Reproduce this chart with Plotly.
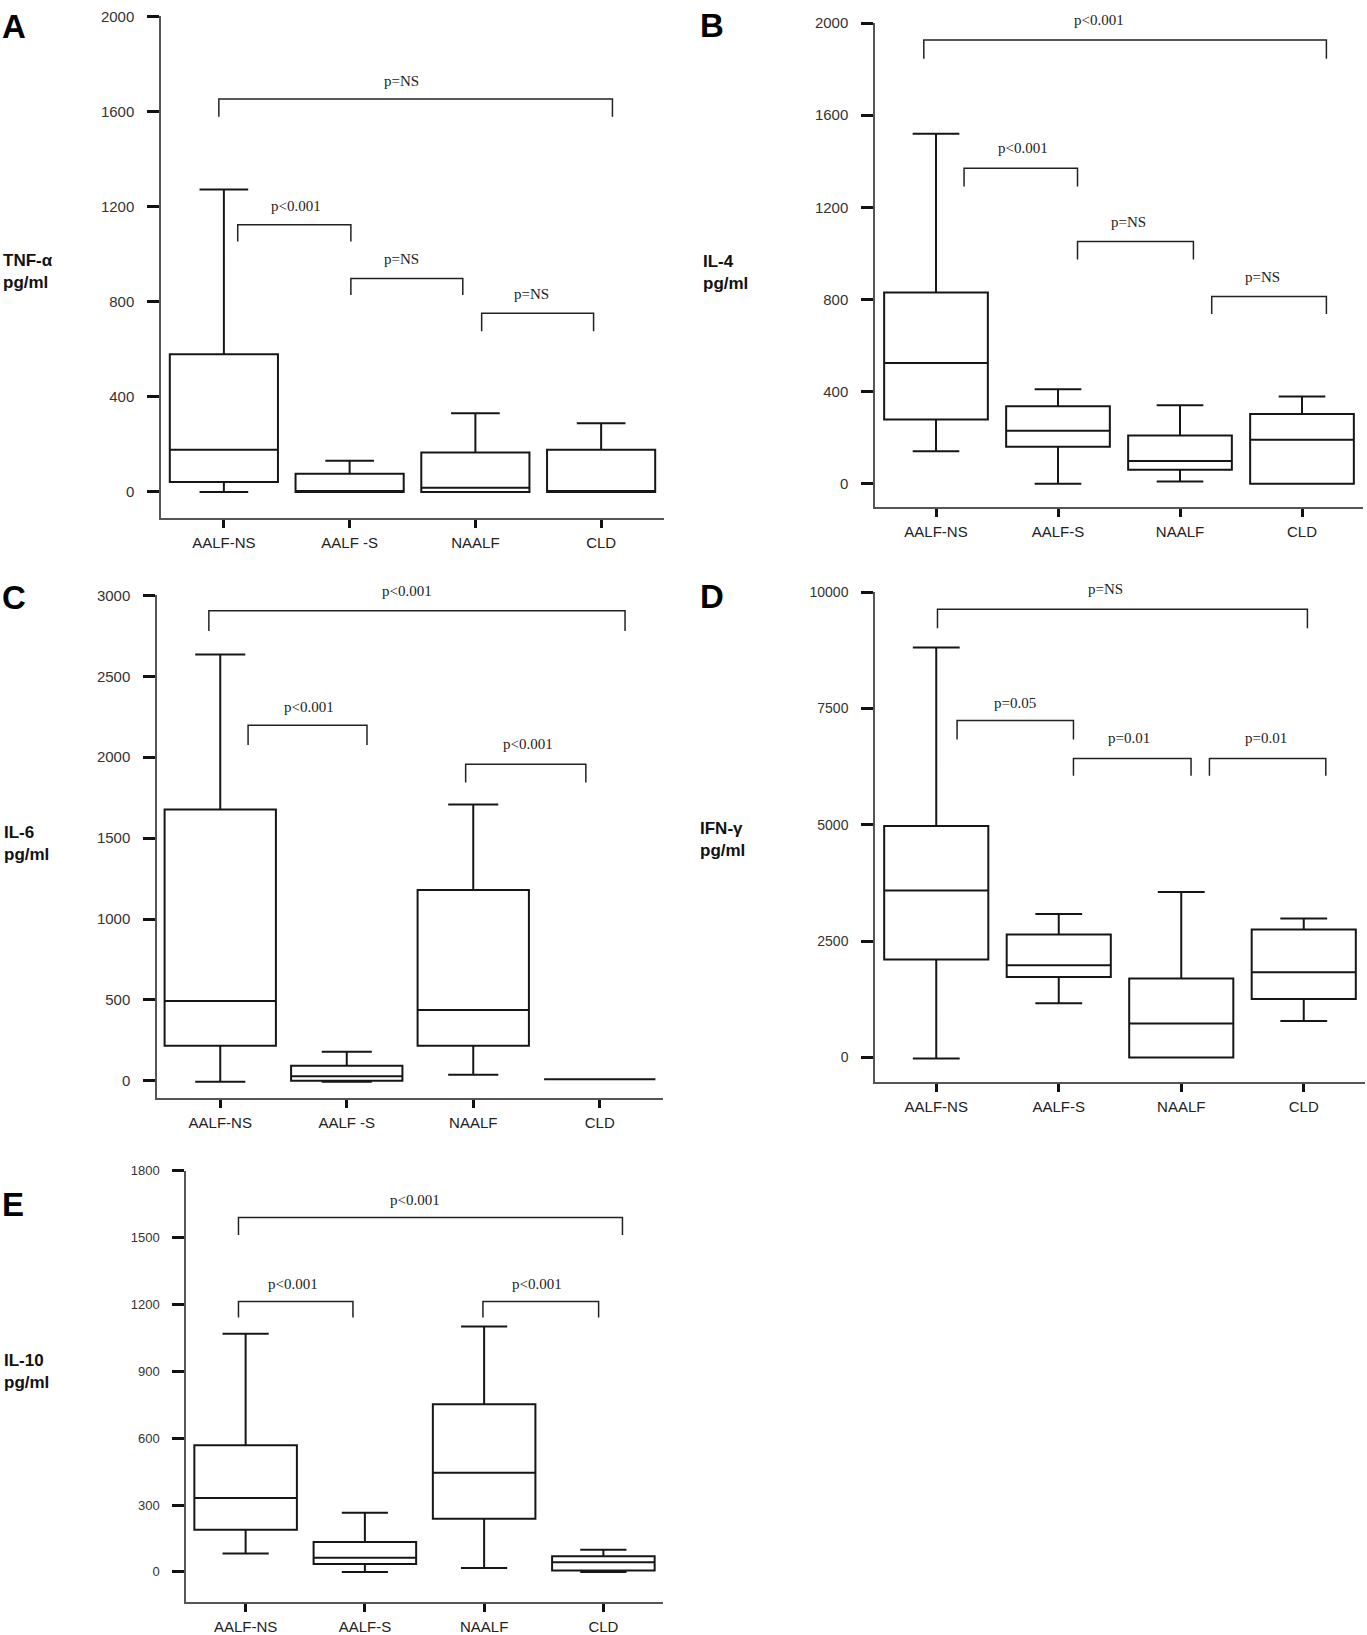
import plotly.graph_objects as go

W, H = 1367, 1635

# ---------------- data ----------------
GROUPS_A = ["AALF-NS", "AALF -S", "NAALF", "CLD"]
GROUPS_B = ["AALF-NS", "AALF-S", "NAALF", "CLD"]
GROUPS_C = ["AALF-NS", "AALF -S", "NAALF", "CLD"]
GROUPS_D = ["AALF-NS", "AALF-S", "NAALF", "CLD"]
GROUPS_E = ["AALF-NS", "AALF-S", "NAALF", "CLD"]

# A: TNF-alpha (pg/ml)
tnf_min = [0, 0, 0, 0]
tnf_q1 = [42, 0, 0, 0]
tnf_med = [177, 0, 18, 0]
tnf_q3 = [579, 76, 166, 177]
tnf_max = [1272, 131, 331, 289]

# B: IL-4 (pg/ml)
il4_min = [141, 0, 9, 0]
il4_q1 = [279, 160, 60, 0]
il4_med = [524, 230, 98, 191]
il4_q3 = [830, 336, 209, 303]
il4_max = [1520, 410, 341, 379]

# C: IL-6 (pg/ml)
il6_min = [-5, -6, 37, 10]
il6_q1 = [216, 0, 216, 10]
il6_med = [494, 28, 438, 10]
il6_q3 = [1677, 93, 1179, 10]
il6_max = [2634, 179, 1707, 10]

# D: IFN-gamma (pg/ml)
ifn_min = [-20, 1169, 0, 787]
ifn_q1 = [2105, 1730, 0, 1258]
ifn_med = [3588, 1985, 734, 1835]
ifn_q3 = [4974, 2644, 1700, 2749]
ifn_max = [8809, 3086, 3558, 2989]

# E: IL-10 (pg/ml)
il10_min = [82, 0, 18, 0]
il10_q1 = [189, 35, 238, 6]
il10_med = [332, 64, 445, 43]
il10_q3 = [568, 134, 752, 70]
il10_max = [1069, 265, 1101, 99]

# tick values
TICKS_A = [0, 400, 800, 1200, 1600, 2000]
TICKS_B = [0, 400, 800, 1200, 1600, 2000]
TICKS_C = [0, 500, 1000, 1500, 2000, 2500, 3000]
TICKS_D = [0, 2500, 5000, 7500, 10000]
TICKS_E = [0, 300, 600, 900, 1200, 1500, 1800]

# significance labels
P_A = ["p=NS", "p<0.001", "p=NS", "p=NS"]
P_B = ["p<0.001", "p<0.001", "p=NS", "p=NS"]
P_C = ["p<0.001", "p<0.001", "p<0.001"]
P_D = ["p=NS", "p=0.05", "p=0.01", "p=0.01"]
P_E = ["p<0.001", "p<0.001", "p<0.001"]

# bracket geometry: (x left, x right, y bar, y leg end, text x, text y)
BR_A = [(-0.04, 3.09, 1652, 1578, 1.41, 1730),
        (0.11, 1.01, 1124, 1053, 0.57, 1204),
        (1.01, 1.90, 898, 828, 1.41, 980),
        (2.05, 2.94, 751, 676, 2.45, 832)]
BR_B = [(-0.10, 3.20, 1927, 1845, 1.34, 2013),
        (0.23, 1.16, 1370, 1291, 0.71, 1456),
        (1.16, 2.11, 1052, 974, 1.58, 1138),
        (2.26, 3.20, 813, 737, 2.68, 899)]
BR_C = [(-0.09, 3.20, 2905, 2780, 1.48, 3028),
        (0.22, 1.16, 2198, 2075, 0.70, 2313),
        (1.94, 2.89, 1957, 1843, 2.43, 2080)]
BR_D = [(0.01, 3.03, 9633, 9221, 1.38, 10060),
        (0.17, 1.12, 7243, 6831, 0.64, 7625),
        (1.12, 2.08, 6427, 6052, 1.57, 6861),
        (2.23, 3.18, 6427, 6052, 2.69, 6861)]
BR_E = [(-0.06, 3.16, 1591, 1512, 1.42, 1668),
        (-0.06, 0.90, 1214, 1142, 0.40, 1294),
        (1.99, 2.96, 1214, 1142, 2.44, 1294)]

# ---------------- layout ----------------
panels = [
    dict(ax="", groups=GROUPS_A, stats=(tnf_min, tnf_q1, tnf_med, tnf_q3, tnf_max),
         ticks=TICKS_A, yr=[-109, 2000], px=(161, 664, 7.4, 512), bw=0.86, tf=15,
         letter="A", lpos=(0, 17.5), title="TNF-α<br>pg/ml", tpos=(1, 264),
         br=BR_A, pl=P_A),
    dict(ax="2", groups=GROUPS_B, stats=(il4_min, il4_q1, il4_med, il4_q3, il4_max),
         ticks=TICKS_B, yr=[-101, 2000], px=(875, 1363, 14.2, 501), bw=0.85, tf=15,
         letter="B", lpos=(698, 17), title="IL-4<br>pg/ml", tpos=(701, 265),
         br=BR_B, pl=P_B),
    dict(ax="3", groups=GROUPS_C, stats=(il6_min, il6_q1, il6_med, il6_q3, il6_max),
         ticks=TICKS_C, yr=[-108, 3000], px=(157, 663, 590, 1096), bw=0.88, tf=15,
         letter="C", lpos=(0, 592.5), title="IL-6<br>pg/ml", tpos=(2, 840),
         br=BR_C, pl=P_C),
    dict(ax="4", groups=GROUPS_D, stats=(ifn_min, ifn_q1, ifn_med, ifn_q3, ifn_max),
         ticks=TICKS_D, yr=[-534, 10000], px=(875, 1365, 586.7, 1080), bw=0.85, tf=14,
         letter="D", lpos=(698, 591), title="IFN-γ<br>pg/ml", tpos=(698, 836),
         br=BR_D, pl=P_D),
    dict(ax="5", groups=GROUPS_E, stats=(il10_min, il10_q1, il10_med, il10_q3, il10_max),
         ticks=TICKS_E, yr=[-136, 1800], px=(186, 663, 1169, 1603), bw=0.86, tf=13,
         letter="E", lpos=(-2, 1203), title="IL-10<br>pg/ml", tpos=(2, 1371),
         br=BR_E, pl=P_E),
]

fig = go.Figure()
layout = dict(width=W, height=H, margin=dict(l=0, r=0, t=0, b=0),
              paper_bgcolor="white", plot_bgcolor="white", showlegend=False)
shapes, annotations = [], []

SANS = "Liberation Sans, Arial, sans-serif"
SERIF = "Liberation Serif, Times New Roman, serif"
LINE = "#161616"


def px_x(v):
    return min(max(v / W, 0.0), 1.0)


def px_y(v):
    return min(max(1 - v / H, 0.0), 1.0)


for p in panels:
    mn, q1, md, q3, mx = p["stats"]
    xa = "x" + p["ax"]
    ya = "y" + p["ax"]
    fig.add_trace(go.Box(
        x=[0, 1, 2, 3], q1=q1, median=md, q3=q3, lowerfence=mn, upperfence=mx,
        width=p["bw"], whiskerwidth=0.45, fillcolor="white",
        line=dict(color=LINE, width=2), boxpoints=False, hoverinfo="skip",
        xaxis=xa, yaxis=ya))
    l, r, t, b = p["px"]
    y0, y1 = p["yr"]
    key = p["ax"]
    layout["xaxis" + key] = dict(
        domain=[px_x(l), px_x(r)], range=[-0.5, 3.5], anchor=ya,
        tickvals=[0, 1, 2, 3], ticktext=p["groups"], showgrid=False, zeroline=False,
        showline=True, linecolor="#555", linewidth=1.5,
        ticks="outside", ticklen=8, tickwidth=3, tickcolor="#111",
        tickfont=dict(family=SANS, size=15, color="#222"), ticklabelstandoff=2,
        fixedrange=True)
    layout["yaxis" + key] = dict(
        domain=[px_y(b), px_y(t)], range=[y0, y1], anchor=xa,
        tickvals=p["ticks"], ticktext=[str(v) for v in p["ticks"]],
        showgrid=False, zeroline=False,
        showline=True, linecolor="#555", linewidth=1.5,
        ticks="outside", ticklen=12, tickwidth=3, tickcolor="#111",
        tickfont=dict(family=SANS, size=p["tf"], color="#333"), ticklabelstandoff=10,
        fixedrange=True)

    def data_to_paper_y(v, t=t, b=b, y0=y0, y1=y1):
        pix = b - (v - y0) / (y1 - y0) * (b - t)
        return px_y(pix)

    for (x0, x1, ybar, yleg, tx, ty), lab in zip(p["br"], p["pl"]):
        shapes.append(dict(type="path", xref=xa, yref=ya,
                           path=f"M {x0},{yleg} L {x0},{ybar} L {x1},{ybar} L {x1},{yleg}",
                           line=dict(color="#222", width=1.5)))
        annotations.append(dict(x=tx, y=data_to_paper_y(ty), xref=xa, yref="paper",
                                text=lab, showarrow=False,
                                xanchor="center", yanchor="middle",
                                font=dict(family=SERIF, size=15, color="#222")))
    lx, ly = p["lpos"]
    annotations.append(dict(x=px_x(lx), y=px_y(ly), xref="paper", yref="paper",
                            text="<b>" + p["letter"] + "</b>", showarrow=False,
                            xanchor="left", yanchor="middle",
                            font=dict(family=SANS, size=33, color="#000")))
    tx, ty = p["tpos"]
    annotations.append(dict(x=px_x(tx), y=px_y(ty), xref="paper", yref="paper",
                            text="<b>" + p["title"] + "</b>", showarrow=False,
                            xanchor="left", yanchor="middle", align="left",
                            font=dict(family=SANS, size=17, color="#111")))

layout["shapes"] = shapes
layout["annotations"] = annotations
fig.update_layout(**layout)
# remove the browser's default page margin so the figure sits at the window origin
fig.write_html("out.html", config={"displayModeBar": False},
               post_script="document.body.style.margin='0';document.body.style.overflow='hidden';")
